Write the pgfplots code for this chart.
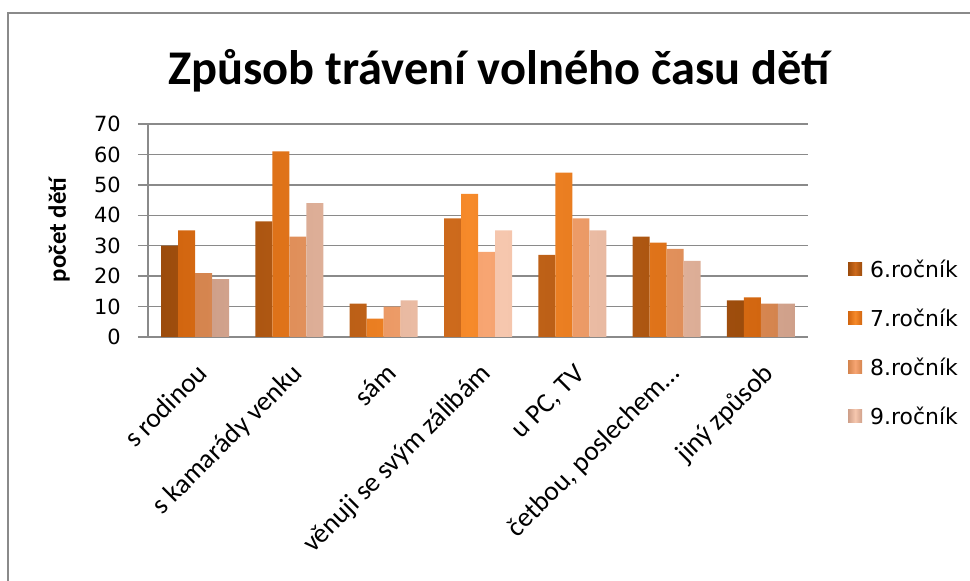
\documentclass[border=0pt]{standalone}
\usepackage{pgfplots}
\pgfplotsset{compat=1.18}
\usetikzlibrary{calc}
\usepackage{fontspec}
\setmainfont{Carlito}
\newfontfamily\dejavu{DejaVu Sans}
\definecolor{gridgray}{HTML}{8A8A8A}
\definecolor{aD}{HTML}{9C4C0C}\definecolor{aM}{HTML}{CD6A1C}
\definecolor{bD}{HTML}{D26610}\definecolor{bM}{HTML}{F68A2A}
\definecolor{cD}{HTML}{D4844E}\definecolor{cM}{HTML}{F7A572}
\definecolor{dD}{HTML}{CFA08A}\definecolor{dM}{HTML}{F6C7AE}
\begin{document}
\begin{tikzpicture}[x=1bp,y=1bp]
\begin{axis}[
  scale only axis, width=660bp, height=213bp,
  ybar=0pt, bar width=17bp,
  xmin=-0.5, xmax=6.5, ymin=0, ymax=70, ytick={0,10,...,70},
  xtick={0,...,6},
  xticklabels={s rodinou, s kamarády venku, sám, věnuji se svým zálibám, {u PC, TV}, {četbou, poslechem…}, jiný způsob},
  axis lines*=left, axis line style={gridgray, line width=1.5bp},
  ymajorgrids, grid style={gridgray, line width=1.5bp},
  xtick style={draw=none},
  ytick style={gridgray, line width=1.5bp}, tick align=outside, major tick length=10bp,
  /pgf/number format/assume math mode=true,
  yticklabel style={font=\dejavu\fontsize{21}{21}\selectfont, inner sep=0pt, xshift=-17bp},
  xticklabel style={font=\fontsize{27.5}{27.5}\selectfont, xshift=14bp, yshift=-28bp, rotate=45, anchor=base east, inner sep=0pt},
  legend style={draw=none, fill=none, inner sep=0pt, at={(axis description cs:1.0606,0.352)}, anchor=north west,
    row sep=28.5bp, column sep=8bp, font=\dejavu\fontsize{22}{22}\selectfont,
    nodes={inner sep=0pt, text height=15bp, text depth=5bp, anchor=base west}},
  legend image code/.code={\path[#1, draw=none] (0bp,2.5bp) rectangle (14bp,15.5bp);},
]
\addplot[draw=none, left color=aD, right color=aD, middle color=aM] coordinates {(0,30) (1,38) (2,11) (3,39) (4,27) (5,33) (6,12)};
\addplot[draw=none, left color=bD, right color=bD, middle color=bM] coordinates {(0,35) (1,61) (2,6) (3,47) (4,54) (5,31) (6,13)};
\addplot[draw=none, left color=cD, right color=cD, middle color=cM] coordinates {(0,21) (1,33) (2,10) (3,28) (4,39) (5,29) (6,11)};
\addplot[draw=none, left color=dD, right color=dD, middle color=dM] coordinates {(0,19) (1,44) (2,12) (3,35) (4,35) (5,25) (6,11)};
\legend{6.ročník, 7.ročník, 8.ročník, 9.ročník}
\coordinate (bl) at (rel axis cs:0,0);
\end{axis}
\pgfresetboundingbox
\path[use as bounding box] ($(bl)+(-148,-244)$) rectangle ($(bl)+(822,337)$);
\draw[gridgray, line width=2bp] ($(bl)+(-140,-250)$) -- ($(bl)+(-140,324)$) -- ($(bl)+(830,324)$);
\node[font=\bfseries\fontsize{48.6}{48.6}\selectfont, anchor=base] at ($(bl)+(351,252)$) {Způsob trávení volného času dětí};
\node[font=\bfseries\fontsize{25}{25}\selectfont, rotate=90, anchor=base] at ($(bl)+(-82,107)$) {počet dětí};
\end{tikzpicture}
\end{document}
